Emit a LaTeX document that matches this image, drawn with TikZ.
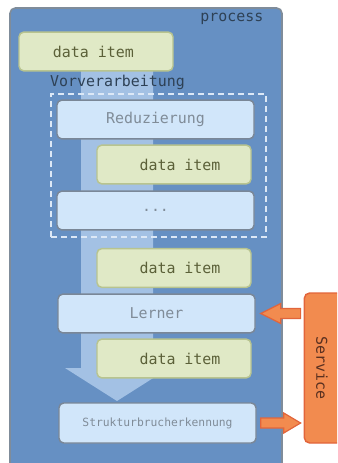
\documentclass[tikz,border=0pt]{standalone}
\usepackage{fontspec}
\setmonofont{DejaVu Sans Mono}
\usetikzlibrary{calc}
\definecolor{procfill}{HTML}{6690C3}
\definecolor{procline}{HTML}{7F8C9A}
\definecolor{proctext}{HTML}{2E4155}
\definecolor{flowfill}{HTML}{A3C1E4}
\definecolor{stepfill}{HTML}{D1E6FA}
\definecolor{stepline}{HTML}{7A8797}
\definecolor{steptext}{HTML}{808C98}
\definecolor{itemfill}{HTML}{E0E9C6}
\definecolor{itemline}{HTML}{B8C48F}
\definecolor{itemtext}{HTML}{5B6038}
\definecolor{svcfill}{HTML}{F28B4F}
\definecolor{svcline}{HTML}{E2653B}
\definecolor{svctext}{HTML}{5A3020}
\definecolor{dashline}{HTML}{DCE8F6}
\tikzset{
  every node/.style={font=\ttfamily\fontsize{11.2}{13}\selectfont},
  itembox/.style={draw=itemline, fill=itemfill, line width=1.1pt, rounded corners=3.5pt,
    text=itemtext, minimum width=115.5pt, minimum height=29pt, inner sep=0pt},
  stepbox/.style={draw=stepline, fill=stepfill, line width=1.1pt, rounded corners=3.5pt,
    text=steptext, minimum width=147.75pt, minimum height=29pt, inner sep=0pt},
  svcarrow/.style={draw=svcline, fill=svcfill, line width=0.9pt, line join=miter},
}
\begin{document}
\begin{tikzpicture}[x=0.75pt,y=-0.75pt]
\useasboundingbox (0,0) rectangle (337,463);
\clip (0,0) rectangle (337,463);
% process container
\node[draw=procline, fill=procfill, line width=1.2pt, rounded corners=4pt,
  minimum width=204pt, minimum height=354pt, inner sep=0pt] (proc) at (146,244) {};
\node[text=proctext, anchor=east] (proclabel) at (268,19) {process};
% broad flow arrow
\path[fill=flowfill] (81,71) -- (153,71) -- (153,368) -- (169,368) -- (117,401)
  -- (65,368) -- (81,368) -- cycle;
% items and steps
\node[itembox] (d1) at (96,51.5) {data item\hspace*{4pt}};
\node[text=proctext] (vor) at (117.5,82) {Vorverarbeitung};
\node[draw=dashline, dash pattern=on 4.5pt off 3pt, line width=1.3pt,
  minimum width=161.25pt, minimum height=107.25pt, inner sep=0pt] (pre) at (158.5,165.5) {};
\node[stepbox] (red) at (155.5,119.5) {Reduzierung};
\node[itembox] (d2) at (174,164.5) {\hspace*{9pt}data item};
\node[stepbox] (dots) at (155.5,210.5) {...};
\node[itembox] (d3) at (174,268) {\hspace*{9pt}data item};
\node[stepbox] (lern) at (156.5,313.5) {Lerner};
\node[itembox] (d4) at (174,358.5) {\hspace*{9pt}data item};
\node[stepbox, minimum height=30pt, font=\ttfamily\fontsize{8.5}{10}\selectfont] (struk) at (157.5,423) {Strukturbrucherkennung};
% service
\node[draw=svcline, fill=svcfill, line width=1.1pt, rounded corners=4pt,
  minimum width=34pt, minimum height=112.5pt, inner sep=0pt] (svc) at (327,368) {};
\node[text=svctext, rotate=-90] (svclabel) at (322,368) {Service};
% service arrows
\draw[svcarrow] ($(lern.east)+(5,0)$) -- ++(20,-10) -- ++(0,5) -- ($(svc.west |- lern.east)+(-3,-5)$)
  -- ++(0,10) -- ($(lern.east)+(25,5)$) -- ++(0,5) -- cycle;
\draw[svcarrow] ($(struk.east)+(4,-5)$) -- ++(23,0) -- ++(0,-5) -- ($(svc.west |- struk.east)+(-3,0)$)
  -- ($(struk.east)+(27,10)$) -- ++(0,-5) -- ($(struk.east)+(4,5)$) -- cycle;
\end{tikzpicture}
\end{document}
